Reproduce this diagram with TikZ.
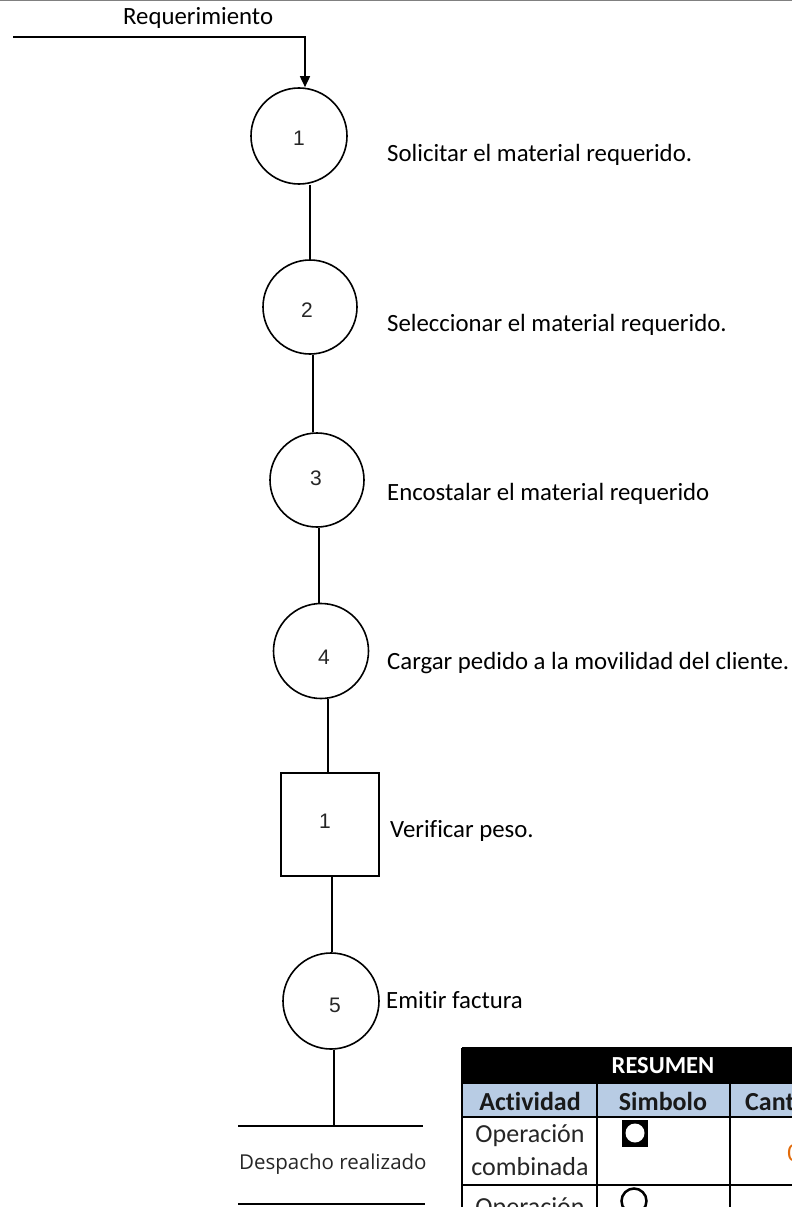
\documentclass[tikz,border=0pt]{standalone}
\usepackage{fontspec}
\setmainfont{Carlito}[Ligatures=NoCommon]
\newfontfamily\arialf{Liberation Sans}
\newfontfamily\osans{Open Sans}
\usetikzlibrary{arrows.meta}
\definecolor{hdrblue}{RGB}{184,204,228}
\definecolor{xlorange}{RGB}{226,107,10}
\begin{document}
\begin{tikzpicture}[x=1pt,y=-1pt,
  shp/.style={draw, line width=1.6pt, inner sep=0pt},
  circ/.style={shp, circle},
  num/.style={font=\arialf\fontsize{21pt}{24pt}\selectfont, inner sep=0pt, text=black!85},
  lbl/.style={font=\fontsize{24.8pt}{30pt}\selectfont, anchor=base west, inner sep=0pt},
  conn/.style={line width=1.6pt},
  tline/.style={line width=2pt},
  th/.style={font=\bfseries\fontsize{26pt}{30pt}\selectfont, inner sep=0pt, anchor=base, text=black!90},
  td/.style={font=\fontsize{26pt}{30pt}\selectfont, inner sep=0pt, anchor=base, text=black!85}]
\useasboundingbox (0,0) rectangle (792,1207);
\clip (0,0) rectangle (792,1207);
\fill[white] (0,0) rectangle (792,1207);
\draw[gray, line width=1.5pt] (0,0.75) -- (792,0.75);

% flow shapes
\node[circ, minimum size=96pt] (c1) at (299,136) {};
\node[circ, minimum size=94pt] (c2) at (310,307) {};
\node[circ, minimum size=94pt] (c3) at (317,480) {};
\node[circ, minimum size=95pt] (c4) at (321,651) {};
\node[shp, minimum width=98pt, minimum height=103pt] (sq) at (330,824.5) {};
\node[circ, minimum size=96pt] (c5) at (331,1001) {};

% numbers
\node[num] (d1) at (299,138) {1};
\node[num] (d2) at (307,310) {2};
\node[num] (d3) at (316,478) {3};
\node[num] (d4) at (324,657) {4};
\node[num] (d5) at (325,821) {1};
\node[num] (d6) at (335,1005) {5};

% labels
\node[lbl] (req) at (123,25) {Requerimiento};
\node[lbl] (t1) at (387,161) {Solicitar el material requerido.};
\node[lbl] (t2) at (387,331) {Seleccionar el material requerido.};
\node[lbl] (t3) at (387,500) {Encostalar el material requerido};
\node[lbl] (t4) at (387,669) {Cargar pedido a la movilidad del cliente.};
\node[lbl] (t5) at (390,837) {Verificar peso.};
\node[lbl] (t6) at (386,1008) {Emitir factura};

% connectors
\coordinate (inl) at (13,37);
\draw[conn, -{Triangle[length=11pt,width=10pt]}] (inl) -| ([xshift=6pt]c1.north);
\draw[conn] (c1.south -| c2.north) -- (c2.north);
\draw[conn] ([xshift=3pt]c2.south) -- ([xshift=3pt]c2.south |- c3.north);
\draw[conn] ([xshift=2pt]c3.south) -- ([xshift=2pt]c3.south |- c4.north);
\draw[conn] ([xshift=7pt]c4.south) -- ([xshift=7pt]c4.south |- sq.north);
\draw[conn] ([xshift=2pt]sq.south) -- ([xshift=2pt]sq.south |- c5.north);
\coordinate (endtop) at (334,1126);
\draw[conn] ([xshift=3pt]c5.south) -- (endtop);
\coordinate (ela) at (238,1126);
\coordinate (elb) at (423,1126);
\coordinate (eba) at (238,1204);
\coordinate (ebb) at (425,1204);
\draw[conn] (ela) -- (elb);
\draw[conn] (eba) -- (ebb);
\node[font=\osans\fontsize{20.5pt}{24pt}\selectfont, anchor=base west, inner sep=0pt, text=black!85] (desp) at (239,1169) {Despacho realizado};

% summary table
\fill[black] (462,1048) rectangle (800,1083);
\fill[hdrblue] (462,1083) rectangle (800,1117);
\draw[tline] (462,1048) -- (800,1048);
\draw[tline] (462,1083) -- (800,1083);
\draw[tline] (462,1117) -- (800,1117);
\draw[tline] (462,1185) -- (800,1185);
\draw[tline] (462,1048) -- (462,1210);
\draw[tline] (597,1083) -- (597,1210);
\draw[tline] (730,1083) -- (730,1210);
\node[font=\bfseries\fontsize{24.5pt}{28pt}\selectfont, text=white, anchor=base, inner sep=0pt] (res) at (663,1073) {RESUMEN};
\node[th] (h1) at (530,1110) {Actividad};
\node[th] (h2) at (663,1110) {Simbolo};
\node[th, anchor=base west] (h3) at (745,1110) {Cantidad};
\node[td] (r1a) at (530,1142) {Operación};
\node[td] (r1b) at (530,1175) {combinada};
\fill[black] (622,1120) rectangle (648,1147);
\fill[white] (635,1133) circle (9.5);
\node[td, text=xlorange] (r1c) at (794,1161) {0};
\draw[line width=2.5pt, fill=white] (634,1201) circle (12.5);
\node[td] (r2a) at (530,1215) {Operación};
\end{tikzpicture}
\end{document}
